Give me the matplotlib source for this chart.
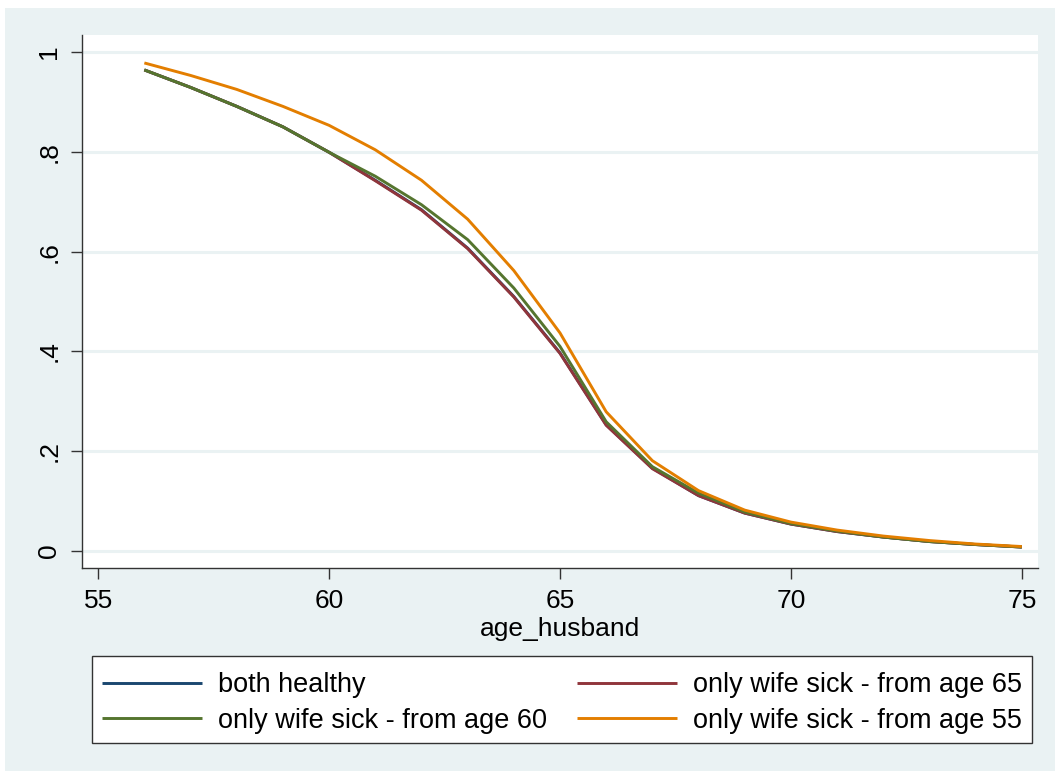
import matplotlib
matplotlib.use("Agg")
import matplotlib.pyplot as plt
from matplotlib.patches import Rectangle

plt.rcParams['font.family'] = ['Liberation Sans', 'DejaVu Sans']

ages = list(range(56, 76))
both_healthy = [0.964, 0.929, 0.891, 0.850, 0.799, 0.743, 0.684, 0.607, 0.510, 0.397,
                0.253, 0.166, 0.111, 0.076, 0.054, 0.039, 0.028, 0.019, 0.013, 0.008]
wife_sick_65 = [0.964, 0.929, 0.891, 0.850, 0.799, 0.742, 0.683, 0.606, 0.509, 0.396,
                0.252, 0.165, 0.111, 0.076, 0.054, 0.039, 0.028, 0.019, 0.013, 0.008]
wife_sick_60 = [0.964, 0.929, 0.891, 0.850, 0.799, 0.751, 0.694, 0.624, 0.527, 0.410,
                0.259, 0.169, 0.116, 0.078, 0.055, 0.040, 0.028, 0.019, 0.013, 0.008]
wife_sick_55 = [0.978, 0.953, 0.925, 0.891, 0.853, 0.804, 0.743, 0.665, 0.562, 0.437,
                0.279, 0.181, 0.121, 0.082, 0.058, 0.042, 0.030, 0.021, 0.014, 0.009]

labels = ["both healthy", "only wife sick - from age 65",
          "only wife sick - from age 60", "only wife sick - from age 55"]
colors = ["#1a476f", "#90353b", "#55752f", "#e37e00"]
xticks = [55, 60, 65, 70, 75]
yticks = [0, 0.2, 0.4, 0.6, 0.8, 1.0]
yticklabels = ["0", ".2", ".4", ".6", ".8", "1"]

W, H = 1060, 776
bg = "#eaf2f3"
fig = plt.figure(figsize=(W / 100, H / 100), dpi=100, facecolor="white")
fig.patches.append(Rectangle((5 / W, 5 / H), 1 - 10 / W, 1 - 13 / H,
                             transform=fig.transFigure, facecolor=bg,
                             edgecolor="none", zorder=-10))

left, right, top, bottom = 82, 1038, 35, 568
ax = fig.add_axes([left / W, 1 - bottom / H, (right - left) / W, (bottom - top) / H])
ax.set_facecolor("white")

series = [both_healthy, wife_sick_65, wife_sick_60, wife_sick_55]
handles = []
for vals, c, lab in zip(series, colors, labels):
    h, = ax.plot(ages, vals, color=c, lw=2.1, label=lab, solid_capstyle="butt")
    handles.append(h)

ax.set_xlim(54.65, 75.35)
ax.set_ylim(-0.034, 1.034)
ax.set_xticks(xticks)
ax.set_yticks(yticks)
ax.set_yticklabels(yticklabels, rotation=90, va="center")

fs_tick = 19
fs_leg = 19.5
ax.tick_params(axis="both", direction="out", length=8, width=1.0, color="#333333",
               labelsize=fs_tick, pad=7)
ax.grid(axis="y", color=bg, lw=2.2)
ax.set_axisbelow(True)
for s in ["top", "right"]:
    ax.spines[s].set_visible(False)
for s in ["left", "bottom"]:
    ax.spines[s].set_color("#333333")
    ax.spines[s].set_linewidth(1.0)

ax.set_xlabel("age_husband", fontsize=fs_tick, labelpad=3)

# legend box drawn as its own frame; entries centred inside it
lx0, lx1, ly0, ly1 = 92, 1032, 656, 743
fig.patches.append(Rectangle((lx0 / W, 1 - ly1 / H), (lx1 - lx0) / W, (ly1 - ly0) / H,
                             transform=fig.transFigure, facecolor="white",
                             edgecolor="#333333", lw=1.0, zorder=-5))
order = [0, 2, 1, 3]
leg = fig.legend([handles[i] for i in order], [labels[i] for i in order],
                 ncol=2, loc="center",
                 bbox_to_anchor=((lx0 + lx1) / 2 / W, 1 - 703 / H),
                 fontsize=fs_leg, frameon=False,
                 handlelength=3.7, handletextpad=0.59, labelspacing=0.36,
                 borderpad=0.0, borderaxespad=0, columnspacing=1.1)

fig.savefig("out.png", dpi=100, facecolor="white")
